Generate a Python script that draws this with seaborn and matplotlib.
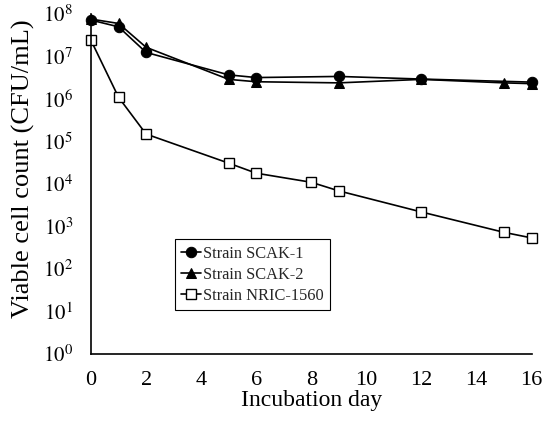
import matplotlib.pyplot as plt
import seaborn as sns
from matplotlib.ticker import FixedLocator, NullLocator

sns.set_theme(style="white")
plt.rcParams['font.family'] = ['Liberation Serif', 'DejaVu Serif']
plt.rcParams['mathtext.fontset'] = 'stix'

# Data
days_scak1 = [0, 1, 2, 5, 6, 9, 12, 16]
cfu_scak1 = [7.2e7, 5.0e7, 1.25e7, 3.7e6, 3.2e6, 3.4e6, 2.95e6, 2.5e6]

days_scak2 = [0, 1, 2, 5, 6, 9, 12, 15, 16]
cfu_scak2 = [7.6e7, 6.0e7, 1.65e7, 2.9e6, 2.55e6, 2.4e6, 2.9e6, 2.4e6, 2.3e6]

days_nric = [0, 1, 2, 5, 6, 8, 9, 12, 15, 16]
cfu_nric = [2.4e7, 1.1e6, 1.5e5, 3.1e4, 1.8e4, 1.1e4, 6.9e3, 2.2e3, 7.3e2, 5.4e2]

strains = ['Strain SCAK-1', 'Strain SCAK-2', 'Strain NRIC-1560']
y_decades = list(range(0, 9))
x_ticks = list(range(0, 17, 2))

fig = plt.figure(figsize=(5.43, 4.21), dpi=100)
ax = fig.add_axes([0.1676, 0.159, 0.8114, 0.8077])

common = dict(color='black', linewidth=1.2, markeredgecolor='black',
              clip_on=False, ax=ax)
sns.lineplot(x=days_scak1, y=cfu_scak1, marker='o', markersize=7.5,
             markerfacecolor='black', label=strains[0], **common)
sns.lineplot(x=days_scak2, y=cfu_scak2, marker='^', markersize=7.5,
             markerfacecolor='black', label=strains[1], **common)
sns.lineplot(x=days_nric, y=cfu_nric, marker='s', markersize=7.5,
             markerfacecolor='white', markeredgewidth=1.0, label=strains[2], **common)

ax.set_yscale('log')
ax.set_xlim(0, 16)
ax.set_ylim(1, 1e8)
ax.xaxis.set_major_locator(FixedLocator(x_ticks))
ax.yaxis.set_major_locator(FixedLocator([10 ** d for d in y_decades]))
ax.yaxis.set_minor_locator(NullLocator())
ax.set_yticklabels([r'$10^{%d}$' % d for d in y_decades])

for s in ['top', 'right']:
    ax.spines[s].set_visible(False)
for s in ['left', 'bottom']:
    ax.spines[s].set_color('black')
    ax.spines[s].set_linewidth(1.2)

ax.tick_params(axis='both', which='major', direction='in', length=5, width=1.0,
               colors='black')
ax.tick_params(axis='x', labelsize=16, pad=12)
ax.tick_params(axis='y', labelsize=15, pad=13)

ax.set_xlabel('Incubation day', fontsize=17, color='black', labelpad=0)
ax.set_ylabel('Viable cell count (CFU/mL)', fontsize=19, color='black')
ax.yaxis.set_label_coords(-0.127, 0.545)

leg = ax.legend(loc='upper left', bbox_to_anchor=(0.19, 0.338), fontsize=11.8,
                frameon=True, fancybox=False, edgecolor='black', framealpha=1,
                borderaxespad=0, handlelength=1.2, handletextpad=0.1,
                borderpad=0.4, labelspacing=0.3)
leg.get_frame().set_linewidth(0.8)

fig.savefig('out.png', dpi=100)
